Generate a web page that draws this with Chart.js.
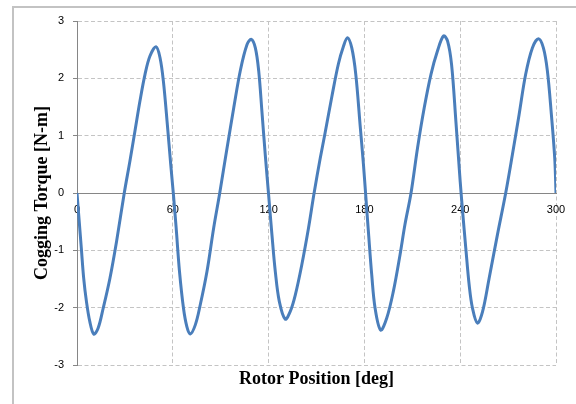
<!DOCTYPE html>
<html>
<head>
<meta charset="utf-8">
<script src="https://cdn.jsdelivr.net/npm/chart.js@4/dist/chart.umd.min.js"></script>
<style>
  html, body { margin: 0; padding: 0; background: #fff; }
  #wrap { position: relative; width: 576px; height: 404px; overflow: hidden; }
  #frame { position: absolute; left: 12px; top: 6px; width: 600px; height: 420px;
           border-top: 2px solid #c3c3c3; border-left: 2px solid #c3c3c3; }
  canvas { position: absolute; left: 0; top: 0; }
</style>
</head>
<body>
<div id="wrap">
  <div id="frame"></div>
  <canvas id="c" width="576" height="404"></canvas>
</div>
<script>
// Rotor position (deg) and cogging torque (N-m)
const positionDeg = [
  0, 2.7, 4.2, 5.9, 8.0, 10.5, 13.2, 16.4, 20.6, 24.8, 29.6,
  33.1, 36.3, 39.4, 42.6, 45.7, 49.5, 52.0, 54.1, 56.6, 58.7,
  60.4, 62.1, 64.2, 66.7, 68.8, 70.9, 74.1, 77.2, 81.4, 85.6, 89.4,
  94.0, 98.2, 102.4, 106.5, 109.2, 111.7, 113.8, 115.8, 117.9,
  120.0, 122.1, 124.2, 126.7, 130.4, 133.5, 136.7, 140.8, 145.0, 148.5,
  152.3, 155.4, 159.6, 163.7, 166.9, 169.4, 172.1, 174.6, 177.3, 179.4,
  180.8, 182.5, 184.6, 186.7, 190.2, 194.0, 198.1, 202.3, 205.4, 209.2,
  213.3, 217.5, 221.7, 225.8, 229.6, 232.1, 234.6, 237.3,
  240.0, 241.5, 243.5, 245.6, 247.7, 250.8, 254.0, 258.1, 263.3, 268.5,
  272.7, 276.9, 281.0, 285.2, 289.0, 292.1, 294.6, 297.1, 299.2, 300
];
const torqueNm = [
  0, -0.96, -1.49, -1.89, -2.24, -2.46, -2.36, -2.01, -1.49, -0.84, 0,
  0.55, 1.08, 1.60, 2.07, 2.39, 2.55, 2.36, 1.95, 1.19, 0.50,
  -0.03, -0.61, -1.37, -2.01, -2.33, -2.46, -2.30, -1.95, -1.37, -0.61, 0,
  0.79, 1.49, 2.15, 2.59, 2.68, 2.53, 2.13, 1.43, 0.67,
  -0.03, -0.73, -1.37, -1.89, -2.20, -2.07, -1.78, -1.25, -0.61, 0,
  0.60, 1.05, 1.68, 2.25, 2.56, 2.71, 2.53, 2.07, 1.19, 0.50,
  -0.03, -0.67, -1.43, -2.01, -2.39, -2.18, -1.72, -1.08, -0.55, 0,
  0.79, 1.49, 2.07, 2.48, 2.74, 2.65, 2.24, 1.25,
  0.20, -0.32, -0.96, -1.60, -2.01, -2.27, -2.07, -1.49, -0.73, 0,
  0.67, 1.37, 2.07, 2.53, 2.69, 2.53, 2.13, 1.37, 0.61, 0
];
const xTicks = [0, 60, 120, 180, 240, 300];
const yTicks = [-3, -2, -1, 0, 1, 2, 3];
const xTitle = 'Rotor Position [deg]';
const yTitle = 'Cogging Torque [N-m]';

const points = positionDeg.map((x, i) => ({ x: x, y: torqueNm[i] }));
const tickFont = { family: 'Liberation Sans', size: 11 };
const titleFont = { family: 'Liberation Serif', size: 18, weight: 'bold' };
const gridColor = '#c4c4c4';
const axisColor = '#868686';

new Chart(document.getElementById('c'), {
  type: 'scatter',
  data: {
    datasets: [{
      data: points,
      showLine: true,
      borderColor: '#4a7ebb',
      borderWidth: 3,
      pointRadius: 0,
      tension: 0.35,
      fill: false
    }]
  },
  options: {
    responsive: false,
    animation: false,
    layout: { padding: { left: 0, right: 20, top: 21, bottom: 0 } },
    plugins: { legend: { display: false }, tooltip: { enabled: false } },
    scales: {
      x: {
        type: 'linear',
        position: { y: 0 },
        min: xTicks[0], max: xTicks[xTicks.length - 1],
        afterBuildTicks: s => { s.ticks = xTicks.map(v => ({ value: v })); },
        ticks: { font: tickFont, color: '#000', padding: 10, maxRotation: 0 },
        grid: { color: gridColor, lineWidth: 1, drawTicks: false },
        border: { color: axisColor, width: 1, dash: [4, 2.5] },
        afterFit: s => { s.height = 0; }
      },
      xLabel: {
        type: 'linear',
        position: 'bottom',
        min: xTicks[0], max: xTicks[xTicks.length - 1],
        ticks: { display: false },
        grid: { display: false },
        border: { display: false },
        title: { display: true, text: xTitle, font: titleFont, color: '#000', padding: { top: 0, bottom: 14 } },
        afterFit: s => { s.height = 39; }
      },
      y: {
        type: 'linear',
        position: 'left',
        min: yTicks[0], max: yTicks[yTicks.length - 1],
        afterBuildTicks: s => { s.ticks = yTicks.map(v => ({ value: v })); },
        ticks: { font: tickFont, color: '#000', padding: 9 },
        grid: { color: gridColor, lineWidth: 1, tickLength: 4, tickColor: axisColor, tickBorderDash: [] },
        border: { color: axisColor, width: 1, dash: [4, 2.5] },
        title: { display: true, text: yTitle, font: titleFont, color: '#000', padding: { top: 32, bottom: 0 } },
        afterFit: s => { s.width = 77; }
      }
    }
  }
});
</script>
</body>
</html>
